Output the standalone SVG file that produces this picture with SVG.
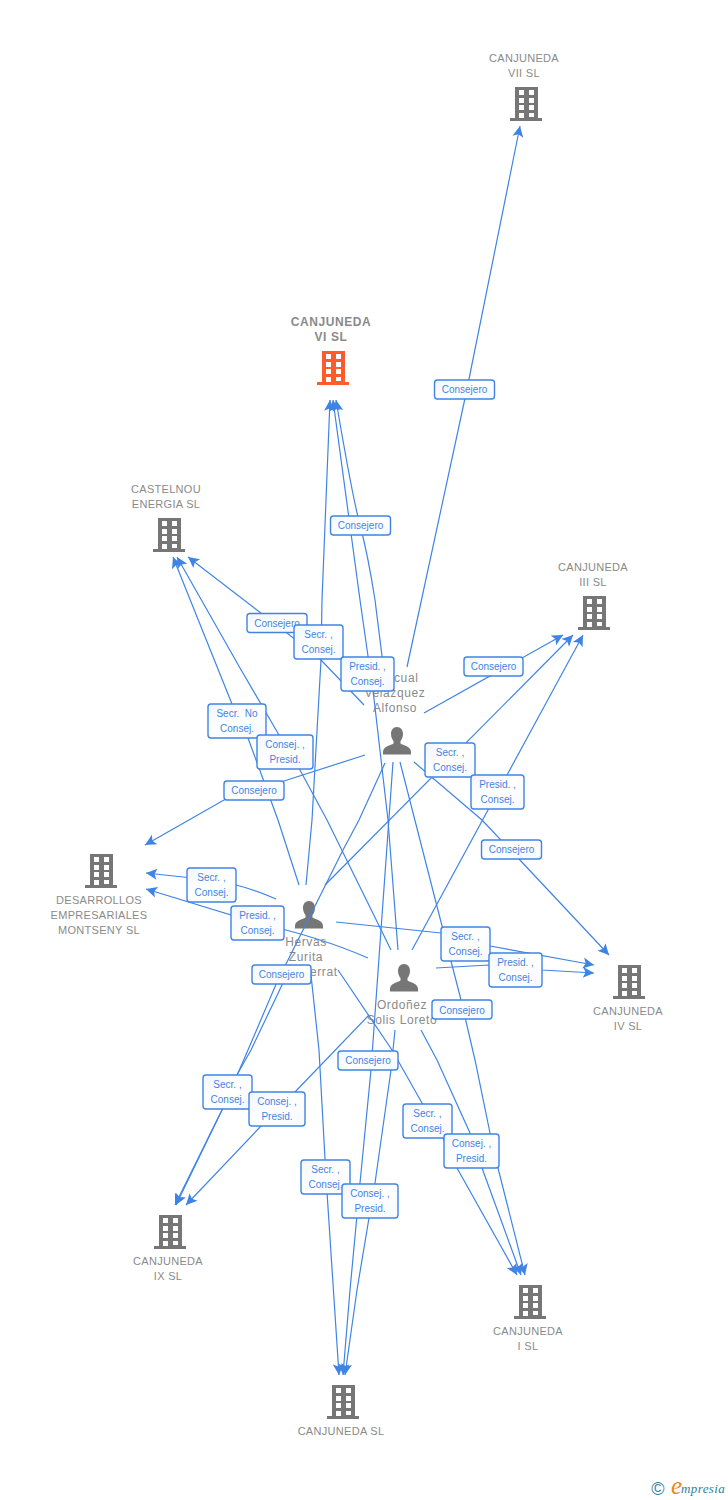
<svg xmlns="http://www.w3.org/2000/svg" width="728" height="1500" viewBox="0 0 728 1500">
<style>
.n{font-family:"Liberation Sans",Arial,sans-serif;font-size:11px;fill:#8a8a8a;text-anchor:middle;letter-spacing:.3px}
.b{font-weight:bold;font-size:12px;letter-spacing:.6px}
.p{font-size:12px;letter-spacing:.6px}
.e{fill:none;stroke:#3f84e5;stroke-width:1.2;marker-end:url(#a)}
.l rect{fill:url(#g);stroke:#3f84e5;stroke-width:1.4}
.l text{font-family:"Liberation Sans",Arial,sans-serif;font-size:10px;fill:#3f84e5;text-anchor:middle}
</style>
<defs>
<linearGradient id="g" x1="0" y1="0" x2="1" y2="1"><stop offset="0" stop-color="#f1f6fd"/><stop offset=".5" stop-color="#fff"/><stop offset="1" stop-color="#f5f8fe"/></linearGradient>
<marker id="a" markerUnits="userSpaceOnUse" markerWidth="14" markerHeight="14" refX="12" refY="6" orient="auto"><path d="M12 6L1 .5 3.500 6 1 11.500z" fill="#3f84e5"/></marker>
<symbol id="bld" viewBox="-16 -17 32 34" width="32" height="34" overflow="visible">
<path fill-rule="evenodd" d="M-11-17H12V14H16V17H-16V14H-11ZM-7-14V-9H-2V-14ZM3-14V-9H8V-14ZM-7-6V-1H-2V-6ZM3-6V-1H8V-6ZM-7 1V6H-2V1ZM3 1V6H8V1ZM-7 9V14H-2V9ZM3 9V13H8V9Z"/>
</symbol>
<symbol id="per" viewBox="-14 -14 28 28" width="28" height="28" overflow="visible">
<path d="M0-14C3.800-14 6-10.800 6-7 6-3.500 4.500-1.200 3.500 0V2.500C6 4.500 14 5 14 11V13.500H-14V11C-14 5-6 4.500-3.500 2.500V0C-4.500-1.200-6-3.500-6-7-6-10.800-3.800-14 0-14Z"/>
</symbol>
</defs>

<g id="node-vii" fill="#767676"><text class="n" x="524" y="62">CANJUNEDA</text><text class="n" x="524" y="77">VII SL</text><use href="#bld" x="510" y="87"/></g>
<g id="node-vi" fill="#ff5c2e"><text class="n b" x="331" y="326">CANJUNEDA</text><text class="n b" x="331" y="341">VI SL</text><use href="#bld" x="317" y="351"/></g>
<g id="node-castelnou" fill="#767676"><text class="n" x="166" y="493">CASTELNOU</text><text class="n" x="166" y="508">ENERGIA SL</text><use href="#bld" x="153" y="518"/></g>
<g id="node-iii" fill="#767676"><text class="n" x="593" y="571">CANJUNEDA</text><text class="n" x="593" y="586">III SL</text><use href="#bld" x="578" y="596"/></g>
<g id="node-desarrollos" fill="#767676"><use href="#bld" x="85" y="854"/><text class="n" x="99" y="904">DESARROLLOS</text><text class="n" x="99" y="919">EMPRESARIALES</text><text class="n" x="99" y="934">MONTSENY SL</text></g>
<g id="node-iv" fill="#767676"><use href="#bld" x="613" y="965"/><text class="n" x="628" y="1015">CANJUNEDA</text><text class="n" x="628" y="1030">IV SL</text></g>
<g id="node-ix" fill="#767676"><use href="#bld" x="154" y="1215"/><text class="n" x="168" y="1265">CANJUNEDA</text><text class="n" x="168" y="1280">IX SL</text></g>
<g id="node-i" fill="#767676"><use href="#bld" x="514" y="1285"/><text class="n" x="528" y="1335">CANJUNEDA</text><text class="n" x="528" y="1350">I SL</text></g>
<g id="node-sl" fill="#767676"><use href="#bld" x="327" y="1385"/><text class="n" x="341" y="1435">CANJUNEDA SL</text></g>
<g id="person-pascual" fill="#767676"><text class="n p" x="395" y="682">Pascual</text><text class="n p" x="395" y="697">Velazquez</text><text class="n p" x="395" y="712">Alfonso</text><use href="#per" x="383" y="727"/></g>
<g id="person-hervas" fill="#767676"><use href="#per" x="295" y="901"/><text class="n p" x="306" y="946">Hervas</text><text class="n p" x="306" y="961">Zurita</text><text class="n p" x="306" y="976">Montserrat</text></g>
<g id="person-ordonez" fill="#767676"><use href="#per" x="390" y="964"/><text class="n p" x="402" y="1009">Ordoñez</text><text class="n p" x="402" y="1024">Solis Loreto</text></g>

<g id="connectors">
<path class="e" d="M407 667L467 389 520 126"/>
<path class="e" d="M386 692L382 656 375 600Q368 555 360 525T336 400"/>
<path class="e" d="M398 950L388 820 373 690 368 656 360 600 333 400"/>
<path class="e" d="M306 885L312 820 321 660 322 600 330 400"/>
<path class="e" d="M364 705L321 660 287 633 188 557"/>
<path class="e" d="M299 885L278 820 248 738 232 704 173 557"/>
<path class="e" d="M391 950L327 820 300 770 279 735 240 668 177 557"/>
<path class="e" d="M365 755L284 781 224 800 145 845"/>
<path class="e" d="M276 899Q245 885 211 880L146 873"/>
<path class="e" d="M368 958Q320 937 257 923L146 889"/>
<path class="e" d="M385 763L359 820 343 850 277 982 248 1050 222 1110 176 1205"/>
<path class="e" d="M292 965L282 985 251 1050 238 1073 222 1110 175 1205"/>
<path class="e" d="M369 1015L295 1092 261 1126 186 1205"/>
<path class="e" d="M311 975L319 1050 326 1177 339 1375"/>
<path class="e" d="M393 762L371 1070 360 1183 350 1290 343 1375"/>
<path class="e" d="M395 1030L391 1070 375 1183 369 1218 357 1290 345 1375"/>
<path class="e" d="M338 970L392 1050 422 1103 443 1138 457 1168 517 1275"/>
<path class="e" d="M421 1030L437 1060 470 1133 482 1168 521 1275"/>
<path class="e" d="M400 762L461 1000 475 1060 490 1133 498 1168 525 1275"/>
<path class="e" d="M424 713L563 635"/>
<path class="e" d="M325 885L573 635"/>
<path class="e" d="M412 950L583 635"/>
<path class="e" d="M414 762L482 820 519 859 609 955"/>
<path class="e" d="M336 922L441 933 490 946 594 965"/>
<path class="e" d="M436 968L489 965 542 970 594 973"/>

<g class="l">
<rect x="434.500" y="380" width="60" height="19" rx="3"/><text x="464.500" y="393">Consejero</text>
<rect x="330.500" y="516" width="60" height="19" rx="3"/><text x="360.500" y="529">Consejero</text>
<rect x="247" y="613.500" width="60" height="19" rx="3"/><text x="277" y="627">Consejero</text>
<rect x="294" y="625" width="49" height="34" rx="3"/><text x="318.500" y="638">Secr. ,</text><text x="318.500" y="653">Consej.</text>
<rect x="341" y="657" width="53" height="34" rx="3"/><text x="367.500" y="670">Presid. ,</text><text x="367.500" y="685">Consej.</text>
<rect x="464" y="657" width="59" height="19" rx="3"/><text x="493.500" y="670">Consejero</text>
<rect x="208" y="704" width="58" height="34" rx="3"/><text x="237" y="717" xml:space="preserve">Secr.  No</text><text x="237" y="732">Consej.</text>
<rect x="257" y="735" width="56" height="34" rx="3"/><text x="285" y="748">Consej. ,</text><text x="285" y="763">Presid.</text>
<rect x="425" y="743" width="50" height="34" rx="3"/><text x="450" y="756">Secr. ,</text><text x="450" y="771">Consej.</text>
<rect x="471" y="775" width="53" height="34" rx="3"/><text x="497.500" y="788">Presid. ,</text><text x="497.500" y="803">Consej.</text>
<rect x="224" y="781" width="60" height="19" rx="3"/><text x="254" y="794">Consejero</text>
<rect x="481.500" y="840" width="60" height="19" rx="3"/><text x="511.500" y="853">Consejero</text>
<rect x="187" y="868" width="49" height="34" rx="3"/><text x="211.500" y="881">Secr. ,</text><text x="211.500" y="896">Consej.</text>
<rect x="231" y="906" width="53" height="34" rx="3"/><text x="257.500" y="919">Presid. ,</text><text x="257.500" y="934">Consej.</text>
<rect x="441" y="927" width="49" height="34" rx="3"/><text x="465.500" y="940">Secr. ,</text><text x="465.500" y="955">Consej.</text>
<rect x="489" y="953" width="53" height="34" rx="3"/><text x="515.500" y="966">Presid. ,</text><text x="515.500" y="981">Consej.</text>
<rect x="252" y="965" width="59" height="19" rx="3"/><text x="281.500" y="978">Consejero</text>
<rect x="432" y="1000" width="60" height="19" rx="3"/><text x="462" y="1014">Consejero</text>
<rect x="338" y="1051" width="60" height="19" rx="3"/><text x="368" y="1064">Consejero</text>
<rect x="203" y="1075" width="49" height="34" rx="3"/><text x="227.500" y="1088">Secr. ,</text><text x="227.500" y="1103">Consej.</text>
<rect x="249" y="1092" width="56" height="34" rx="3"/><text x="277" y="1105">Consej. ,</text><text x="277" y="1120">Presid.</text>
<rect x="403" y="1104" width="49" height="34" rx="3"/><text x="427.500" y="1117">Secr. ,</text><text x="427.500" y="1132">Consej.</text>
<rect x="444" y="1134" width="55" height="34" rx="3"/><text x="471.500" y="1147">Consej. ,</text><text x="471.500" y="1162">Presid.</text>
<rect x="301" y="1160" width="49" height="34" rx="3"/><text x="325.500" y="1173">Secr. ,</text><text x="325.500" y="1188">Consej.</text>
<rect x="342" y="1184" width="56" height="34" rx="3"/><text x="370" y="1197">Consej. ,</text><text x="370" y="1212">Presid.</text>
</g>
</g>

<g id="logo">
<text x="658" y="1495" font-family="Liberation Sans,sans-serif" font-size="18" fill="#3d7f9e" text-anchor="middle">©</text>
<text x="671" y="1494" font-family="Liberation Serif,serif" font-style="italic" font-size="25" fill="#f0851e">e</text>
<text x="681" y="1493" font-family="Liberation Serif,serif" font-style="italic" font-size="13" fill="#2f7f96" letter-spacing=".4">mpresia</text>
</g>
</svg>
